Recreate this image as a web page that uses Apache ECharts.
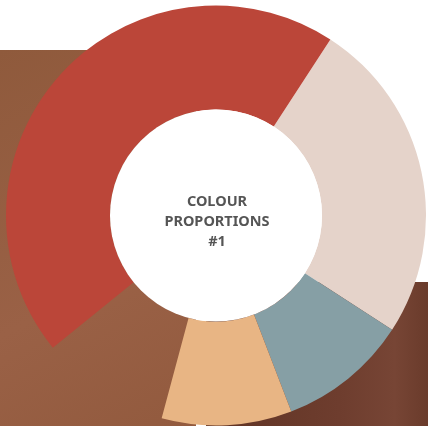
<!DOCTYPE html>
<html>
<head>
<meta charset="utf-8">
<script src="https://cdn.jsdelivr.net/npm/echarts@6/dist/echarts.min.js"></script>
<style>
html,body{margin:0;padding:0;background:#fff;}
#c{width:428px;height:426px;}
</style>
</head>
<body>
<div id="c"></div>
<script>
var categories = ['Dusty Pink', 'Slate Blue', 'Sand', 'Background', 'Brick Red'];
var values = [25, 10, 10, 10, 45];
var colors = ['#e5d3ca', '#869fa5', '#e8b584', 'transparent', '#bb4639'];
var centerTitle = 'COLOUR\nPROPORTIONS\n#1';

var chart = echarts.init(document.getElementById('c'));
var data = categories.map(function (name, i) {
  return { name: name, value: values[i], itemStyle: { color: colors[i] } };
});
chart.setOption({
  animation: false,
  graphic: [
    { type: 'rect', z: -10, shape: { x: 0, y: 50, width: 196, height: 376 },
      style: { fill: new echarts.graphic.LinearGradient(0, 0, 1, 1, [
        { offset: 0, color: '#8f5a3c' }, { offset: 0.6, color: '#9a6146' }, { offset: 1, color: '#925a3e' }]) } },
    { type: 'rect', z: -10, shape: { x: 206, y: 282, width: 222, height: 144 },
      style: { fill: new echarts.graphic.LinearGradient(0, 0, 1, 0, [
        { offset: 0, color: '#5f3324' }, { offset: 0.6, color: '#6e3d2e' }, { offset: 0.85, color: '#774535' }, { offset: 1, color: '#6a3b2b' }]) } },
    { type: 'text', z: 100, x: 217, y: 222,
      style: { text: centerTitle, fill: '#555555', font: 'bold 14.5px "Noto Sans", sans-serif',
        lineHeight: 20, textAlign: 'center', textVerticalAlign: 'middle' } }
  ],
  series: [{
    type: 'pie',
    center: [216, 215.5],
    radius: [106, 210],
    startAngle: 57,
    clockwise: true,
    label: { show: false },
    labelLine: { show: false },
    emphasis: { disabled: true },
    silent: true,
    itemStyle: { borderWidth: 0 },
    data: data
  }, {
    type: 'pie',
    center: [216, 215.5],
    radius: [0, 106],
    label: { show: false },
    labelLine: { show: false },
    emphasis: { disabled: true },
    silent: true,
    data: [{ name: 'hole', value: 1, itemStyle: { color: '#ffffff' } }]
  }]
});
</script>
</body>
</html>
